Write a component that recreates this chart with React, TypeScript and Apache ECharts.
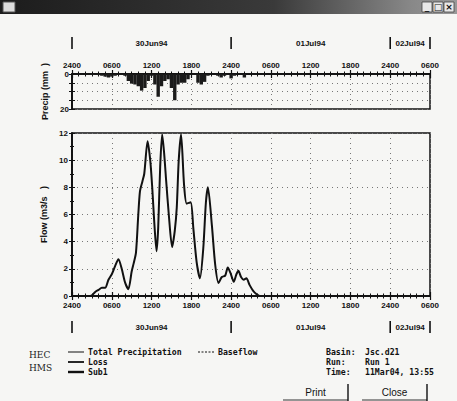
import React, { useEffect, useRef } from 'react';
import * as echarts from 'echarts';

// ---- data ----
const tickLabels = ['2400', '0600', '1200', '1800', '2400', '0600', '1200', '1800', '2400', '0600'];
const dateLabels = ['30Jun94', '01Jul94', '02Jul94'];
const dateCenters = [12, 36, 51];
const dateBars = [0, 24, 48, 54];

const precipHours = [0.5, 1.0, 1.5, 2.0, 2.5, 3.0, 3.5, 4.0, 4.5, 5.0, 5.5, 6.0, 6.5, 7.0, 7.5, 8.0, 8.5, 9.0, 9.5, 10.0, 10.5, 11.0, 11.5, 12.0, 12.5, 13.0, 13.5, 14.0, 14.5, 15.0, 15.5, 16.0, 16.5, 17.0, 17.5, 18.0, 18.5, 19.0, 19.5, 20.0, 20.5, 21.0, 22.0, 22.5, 23.0, 23.5, 24.0, 24.5, 25.5, 26.0];
const precipMm = [0.3, 0.3, 0.4, 0.3, 0.4, 0.5, 0.4, 0.6, 1.0, 1.5, 2.0, 1.5, 1.0, 0.5, 0.5, 1.0, 4.0, 5.5, 6.0, 7.0, 9.5, 8.0, 4.0, 1.0, 6.0, 13.0, 7.0, 4.0, 3.0, 8.0, 15.0, 6.0, 5.0, 5.0, 3.0, 0.5, 0.3, 5.0, 6.0, 4.5, 1.0, 0.3, 1.0, 2.0, 1.0, 0.5, 2.5, 1.0, 0.5, 2.0];

const flowHours = [0, 2.5, 3.0, 3.5, 4.0, 4.5, 5.0, 5.5, 6.0, 6.5, 7.0, 7.5, 8.0, 8.5, 9.0, 9.3, 9.65, 10.0, 10.25, 10.6, 10.9, 11.4, 11.8, 12.1, 12.4, 12.75, 13.0, 13.3, 13.6, 13.9, 14.2, 14.6, 15.1, 15.5, 15.8, 16.1, 16.45, 16.9, 17.3, 17.9, 18.3, 18.8, 19.3, 19.8, 20.2, 20.5, 21.1, 21.6, 22.1, 22.6, 23.1, 23.5, 23.9, 24.4, 24.8, 25.1, 25.5, 25.9, 26.3, 26.8, 27.3, 27.8, 28.3];
const flowCms = [0, 0, 0.05, 0.3, 0.45, 0.6, 0.6, 1.2, 1.6, 2.2, 2.7, 2.0, 1.0, 0.5, 1.8, 2.4, 3.2, 6.0, 7.7, 8.4, 9.0, 11.4, 10.0, 8.0, 5.5, 3.3, 5.0, 9.5, 11.9, 10.5, 8.5, 6.0, 3.6, 4.8, 6.5, 10.0, 11.9, 8.2, 6.8, 6.9, 5.0, 2.5, 1.3, 3.5, 6.9, 8.0, 5.2, 2.3, 0.95, 1.4, 1.5, 2.1, 1.7, 1.05, 1.6, 1.85, 1.4, 1.2, 1.3, 0.8, 0.4, 0.15, 0];

const legendLeft = ['Total Precipitation', 'Loss', 'Sub1'];
const legendRightLabels = ['Basin:', 'Run:', 'Time:'];
const legendRightValues = ['Jsc.d21', 'Run 1', '11Mar04, 13:55'];

// ---- layout ----
const L = 72, W = 358, HOURS = 54;
const PT = 74, PH = 35, FT = 133, FH = 163;
const xpx = (h: number) => L + (h / HOURS) * W;

const axisFont = { fontSize: 8, fontWeight: 'bold' as const, fontFamily: 'Liberation Sans, Arial, sans-serif', color: '#111' };
const dotted = { show: true, lineStyle: { color: '#777', type: [1, 4] as any, width: 1 } };

function xAx(grid: number, pos: string, labels: boolean, split: boolean) {
  return {
    type: 'value', gridIndex: grid, position: pos, min: 0, max: HOURS, interval: 6,
    axisLine: { show: true, lineStyle: { color: '#111', width: 1.5 } },
    axisTick: { show: true, inside: true, length: 4, lineStyle: { color: '#111', width: 1.2 } },
    minorTick: { show: true, splitNumber: 6, length: 2.5, lineStyle: { color: '#111', width: 1 } },
    axisLabel: { show: labels, ...axisFont, margin: 5, formatter: (v: number) => tickLabels[Math.round(v / 6)] ?? '' },
    splitLine: split ? dotted : { show: false },
  };
}

export default function App() {
  const ref = useRef<HTMLDivElement>(null);
  useEffect(() => {
    if (!ref.current) return;
    const chart = echarts.init(ref.current, undefined, { renderer: 'svg' });
    const graphic: any[] = [];
    // title bar
    graphic.push({ type: 'rect', shape: { x: 0, y: 0, width: 457, height: 14 }, style: { fill: new echarts.graphic.LinearGradient(0, 0, 1, 0, [{ offset: 0, color: '#1c1c1c' }, { offset: 0.6, color: '#3a3a3a' }, { offset: 0.9, color: '#888' }, { offset: 1, color: '#999' }]) } });
    graphic.push({ type: 'rect', shape: { x: 3, y: 2, width: 12, height: 10 }, style: { fill: '#ddd', stroke: '#555' } });
    ['_', '□', '×'].forEach((c, i) => {
      graphic.push({ type: 'rect', shape: { x: 422 + i * 11, y: 2, width: 10, height: 10 }, style: { fill: '#e8e8e8', stroke: '#444', lineWidth: 0.8 } });
      graphic.push({ type: 'text', x: 427 + i * 11, y: 7, style: { text: c, fontSize: 9, fontWeight: 'bold', fill: '#111', align: 'center', verticalAlign: 'middle', fontFamily: 'DejaVu Sans' } });
    });
    // date rows
    [43, 327].forEach((y) => {
      dateBars.forEach((h) => graphic.push({ type: 'line', shape: { x1: xpx(h), y1: y - 6, x2: xpx(h), y2: y + 6 }, style: { stroke: '#111', lineWidth: 1.6 } }));
      dateLabels.forEach((t, i) => graphic.push({ type: 'text', x: xpx(dateCenters[i]), y, style: { text: t, align: 'center', verticalAlign: 'middle', ...axisFont, fill: '#111' } }));
    });
    // HEC HMS logo
    graphic.push({ type: 'text', x: 29, y: 355, style: { text: 'HEC', fontFamily: 'DejaVu Serif', fontSize: 9, fill: '#222', verticalAlign: 'middle' } });
    graphic.push({ type: 'text', x: 29, y: 368, style: { text: 'HMS', fontFamily: 'DejaVu Serif', fontSize: 9, fill: '#222', verticalAlign: 'middle' } });
    // legend left
    const rowsY = [352, 362, 372];
    const lw = [1, 1.8, 2.4];
    legendLeft.forEach((t, i) => {
      graphic.push({ type: 'line', shape: { x1: 68, y1: rowsY[i], x2: 84, y2: rowsY[i] }, style: { stroke: '#111', lineWidth: lw[i] } });
      graphic.push({ type: 'text', x: 88, y: rowsY[i], style: { text: t, fontFamily: 'DejaVu Sans Mono', fontWeight: 'bold', fontSize: 8.2, fill: '#111', verticalAlign: 'middle' } });
    });
    graphic.push({ type: 'line', shape: { x1: 198, y1: 352, x2: 214, y2: 352 }, style: { stroke: '#111', lineWidth: 1, lineDash: [2, 1.5] } });
    graphic.push({ type: 'text', x: 218, y: 352, style: { text: 'Baseflow', fontFamily: 'DejaVu Sans Mono', fontWeight: 'bold', fontSize: 8.2, fill: '#111', verticalAlign: 'middle' } });
    legendRightLabels.forEach((t, i) => {
      graphic.push({ type: 'text', x: 326, y: rowsY[i], style: { text: t, fontFamily: 'DejaVu Sans Mono', fontWeight: 'bold', fontSize: 8.2, fill: '#111', verticalAlign: 'middle' } });
      graphic.push({ type: 'text', x: 365, y: rowsY[i], style: { text: legendRightValues[i], fontFamily: 'DejaVu Sans Mono', fontWeight: 'bold', fontSize: 8.2, fill: '#111', verticalAlign: 'middle' } });
    });
    // buttons
    [[283, 348, 'Print'], [362, 427, 'Close']].forEach(([x1, x2, t]: any) => {
      graphic.push({ type: 'line', shape: { x1: x1, y1: 400, x2: x2, y2: 400 }, style: { stroke: '#333', lineWidth: 1 } });
      graphic.push({ type: 'line', shape: { x1: x2, y1: 384, x2: x2, y2: 401 }, style: { stroke: '#111', lineWidth: 1.4 } });
      graphic.push({ type: 'text', x: (x1 + x2) / 2, y: 392, style: { text: t, fontFamily: 'Liberation Sans, Arial', fontSize: 10, fill: '#111', align: 'center', verticalAlign: 'middle' } });
    });

    chart.setOption({
      animation: false,
      backgroundColor: '#f6f6f4',
      grid: [
        { left: L, width: W, top: PT, height: PH, show: true, borderColor: '#111', borderWidth: 1.5, backgroundColor: 'transparent' },
        { left: L, width: W, top: FT, height: FH, show: true, borderColor: '#111', borderWidth: 1.5, backgroundColor: 'transparent' },
      ],
      xAxis: [xAx(0, 'top', true, true), xAx(0, 'bottom', false, false), xAx(1, 'top', false, false), xAx(1, 'bottom', true, true)],
      yAxis: [
        {
          type: 'value', gridIndex: 0, position: 'left', inverse: true, min: 0, max: 20, interval: 5,
          name: 'Precip (mm  )', nameLocation: 'middle', nameGap: 17, nameRotate: 90,
          nameTextStyle: { fontSize: 9, fontWeight: 'bold', fontFamily: 'Liberation Sans, Arial', color: '#111' },
          axisLine: { show: true, lineStyle: { color: '#111', width: 1.5 } },
          axisTick: { show: true, length: 3, lineStyle: { color: '#111' } },
          axisLabel: { ...axisFont, margin: 3, formatter: (v: number) => (v === 0 || v === 20 ? String(v) : '') },
          splitLine: dotted,
        },
        {
          type: 'value', gridIndex: 0, position: 'right', inverse: true, min: 0, max: 20, interval: 5,
          axisLine: { show: true, lineStyle: { color: '#111', width: 1.5 } },
          axisTick: { show: true, length: 3, lineStyle: { color: '#111' } },
          axisLabel: { show: false }, splitLine: { show: false },
        },
        {
          type: 'value', gridIndex: 1, position: 'left', min: 0, max: 12, interval: 2,
          name: 'Flow (m3/s   )', nameLocation: 'middle', nameGap: 20, nameRotate: 90,
          nameTextStyle: { fontSize: 9, fontWeight: 'bold', fontFamily: 'Liberation Sans, Arial', color: '#111' },
          axisLine: { show: true, lineStyle: { color: '#111', width: 1.5 } },
          axisTick: { show: true, length: 3, lineStyle: { color: '#111' } },
          minorTick: { show: true, splitNumber: 2, length: 2, lineStyle: { color: '#111' } },
          axisLabel: { ...axisFont, margin: 4 },
          splitLine: dotted,
        },
        {
          type: 'value', gridIndex: 1, position: 'right', min: 0, max: 12, interval: 2,
          axisLine: { show: true, lineStyle: { color: '#111', width: 1.5 } },
          axisTick: { show: true, length: 3, lineStyle: { color: '#111' } },
          minorTick: { show: true, splitNumber: 2, length: 2, lineStyle: { color: '#111' } },
          axisLabel: { show: false }, splitLine: { show: false },
        },
      ],
      series: [
        {
          type: 'bar', xAxisIndex: 0, yAxisIndex: 0, barWidth: 3.4,
          itemStyle: { color: '#1a1a1a' },
          data: precipHours.map((h, i) => [h, precipMm[i]]),
        },
        {
          type: 'line', xAxisIndex: 3, yAxisIndex: 2, showSymbol: false, smooth: 0.25,
          lineStyle: { color: '#111', width: 2 },
          data: flowHours.map((h, i) => [h, flowCms[i]]),
        },
      ],
      graphic,
    });
    return () => chart.dispose();
  }, []);
  return <div ref={ref} style={{ position: 'fixed', left: 0, top: 0, width: 457, height: 401 }} />;
}
